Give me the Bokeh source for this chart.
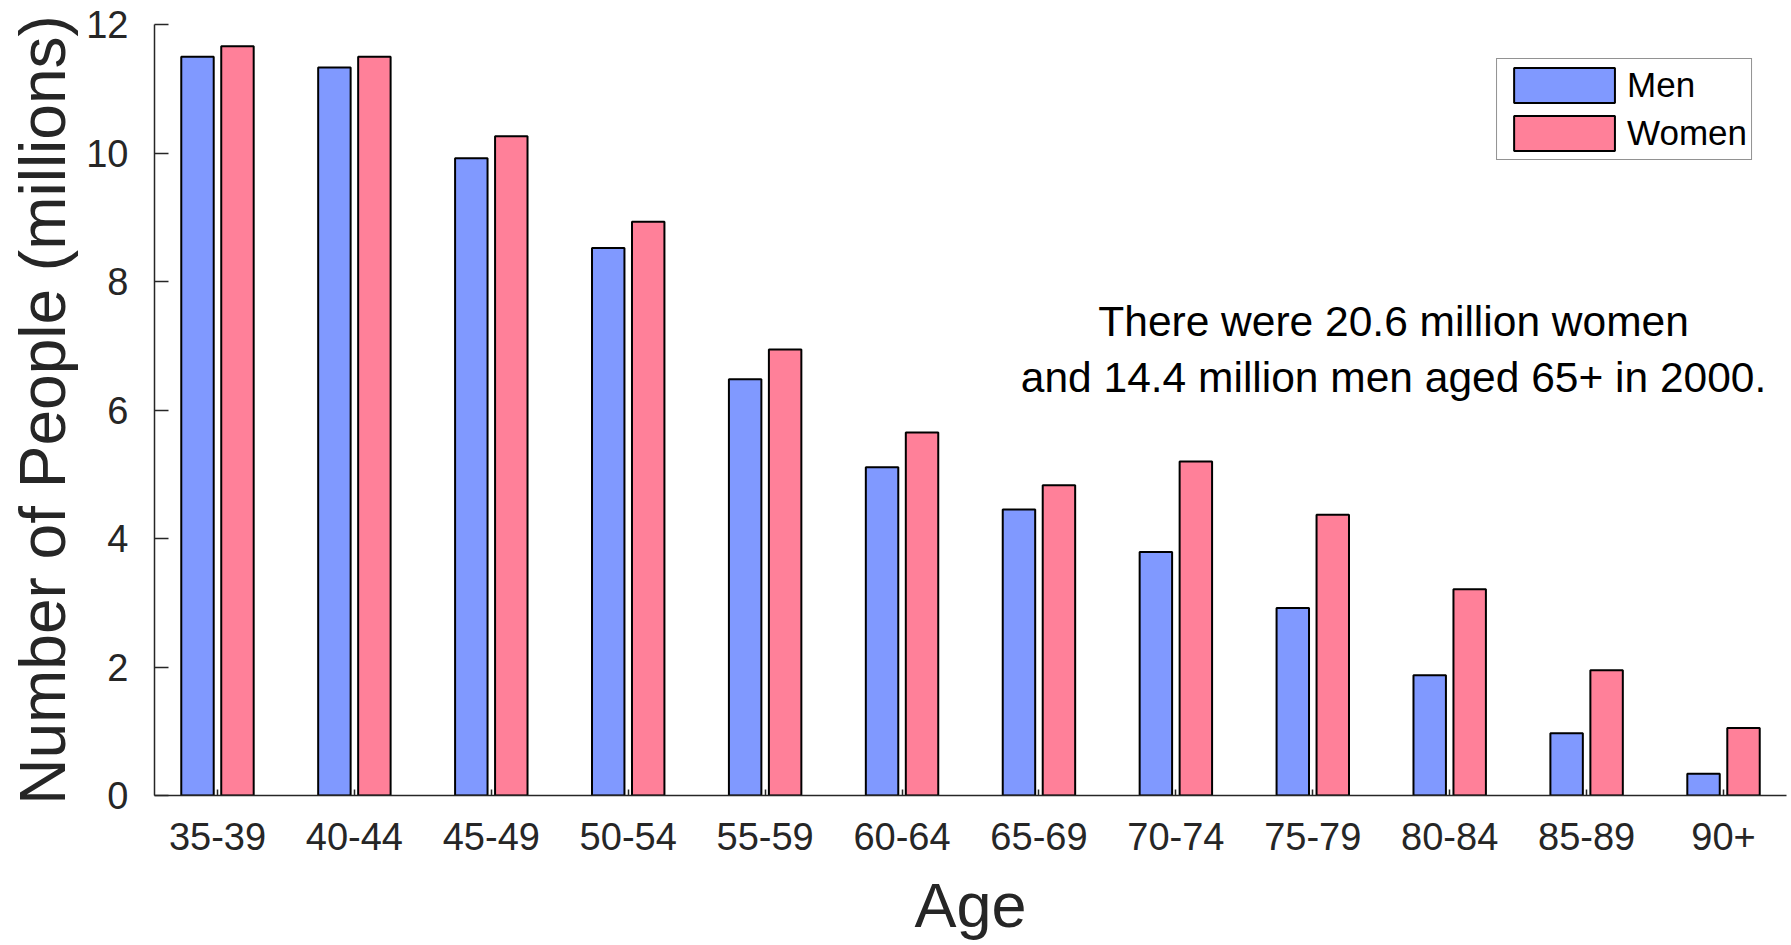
from bokeh.plotting import figure
from bokeh.models import Range1d, FixedTicker, ColumnDataSource, Label, Legend, LegendItem
from bokeh.transform import dodge
from bokeh.embed import file_html
from bokeh.resources import INLINE

# ---- data ----
age_groups = ["35-39", "40-44", "45-49", "50-54", "55-59", "60-64",
              "65-69", "70-74", "75-79", "80-84", "85-89", "90+"]
men = [11.50, 11.33, 9.92, 8.52, 6.48, 5.11, 4.45, 3.79, 2.92, 1.87, 0.97, 0.34]
women = [11.66, 11.50, 10.26, 8.93, 6.94, 5.65, 4.83, 5.20, 4.37, 3.21, 1.95, 1.05]
y_ticks = [0, 2, 4, 6, 8, 10, 12]
x_title = "Age"
y_title = "Number of People (millions)"
note_lines = ["There were 20.6 million women",
              "and 14.4 million men aged 65+ in 2000."]

positions = list(range(1, len(age_groups) + 1))
src = ColumnDataSource(dict(x=positions, men=men, women=women))

FONT = "Liberation Sans"
TXT = "#262626"

p = figure(width=1788, height=943, output_backend="svg", toolbar_location=None,
           x_range=Range1d(0.54, 12.46), y_range=Range1d(0, 12),
           min_border_left=154, min_border_top=24, min_border_right=2,
           min_border_bottom=148)
p.outline_line_color = None
p.xgrid.visible = False
p.ygrid.visible = False

bw = 0.237
off = 0.146
r_men = p.vbar(x=dodge("x", -off, range=p.x_range), top="men", width=bw, source=src,
               fill_color="#8099FF", line_color="black", line_width=2)
r_women = p.vbar(x=dodge("x", off, range=p.x_range), top="women", width=bw, source=src,
                 fill_color="#FF8099", line_color="black", line_width=2)

# axes
for ax in (p.xaxis[0], p.yaxis[0]):
    ax.axis_line_color = TXT
    ax.axis_line_width = 1.5
    ax.major_tick_line_color = TXT
    ax.major_tick_line_width = 1.5
    ax.minor_tick_line_color = None
    ax.major_tick_out = 0
    ax.major_label_text_font = FONT
    ax.major_label_text_font_size = "38px"
    ax.major_label_text_color = TXT
    ax.axis_label_text_font = FONT
    ax.axis_label_text_font_style = "normal"
    ax.axis_label_text_color = TXT

p.yaxis.ticker = FixedTicker(ticks=y_ticks)
p.yaxis.major_tick_in = 14
p.yaxis.major_label_standoff = 26
p.yaxis.axis_label = y_title
p.yaxis.axis_label_text_font_size = "64px"
p.yaxis.axis_label_standoff = 4

p.xaxis.ticker = FixedTicker(ticks=positions)
p.xaxis.major_label_overrides = {pos: lab for pos, lab in zip(positions, age_groups)}
p.xaxis.major_tick_in = 6
p.xaxis.major_label_standoff = 27
p.xaxis.axis_label = x_title
p.xaxis.axis_label_text_font_size = "63px"
p.xaxis.axis_label_standoff = 17

legend = Legend(items=[LegendItem(label="Men", renderers=[r_men]),
                       LegendItem(label="Women", renderers=[r_women])],
                location="top_right", margin=34, padding=4, spacing=4,
                glyph_width=126, glyph_height=44, label_standoff=0,
                label_text_font=FONT, label_text_font_size="35px",
                label_text_color="black", label_height=44,
                border_line_color="#262626", border_line_width=1.5,
                background_fill_color="white", background_fill_alpha=1)
p.add_layout(legend)

p.add_layout(Label(x=9.59, y=7.38, text=note_lines[0], text_align="center",
                   text_baseline="alphabetic", text_font=FONT,
                   text_font_size="42.5px", text_color="black"))
p.add_layout(Label(x=9.59, y=6.51, text=note_lines[1], text_align="center",
                   text_baseline="alphabetic", text_font=FONT,
                   text_font_size="42.5px", text_color="black"))

open("out.html", "w").write(file_html(p, INLINE))
